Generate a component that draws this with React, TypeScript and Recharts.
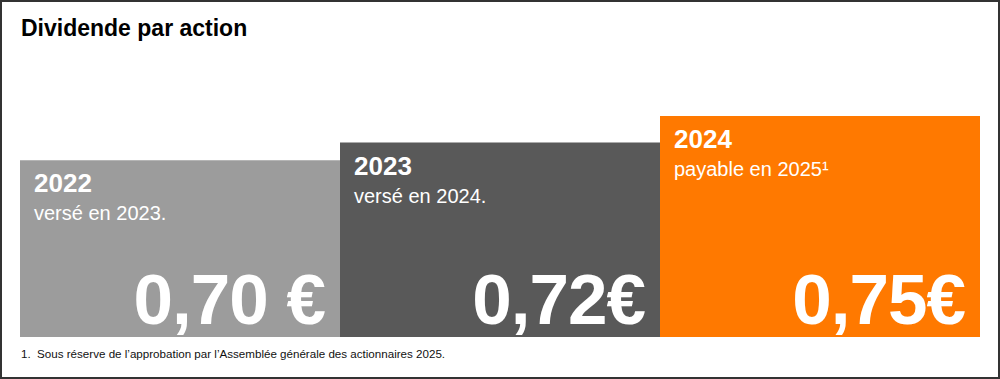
import { BarChart, Bar, Cell, XAxis, YAxis, LabelList } from 'recharts';

const years = ['2022', '2023', '2024'];
const notes = ['versé en 2023.', 'versé en 2024.', 'payable en 2025¹'];
const dividends = [0.7, 0.72, 0.75];
const valueLabels = ['0,70 €', '0,72€', '0,75€'];

const BAR_COLORS = ['#9c9c9c', '#595959', '#ff7900'];
const FONT = '"Liberation Sans", Arial, Helvetica, sans-serif';

const data = years.map((year, i) => ({
  year,
  note: notes[i],
  value: dividends[i],
  label: valueLabels[i],
}));

const renderBarText = (props: any) => {
  const { x, y, width, height, index } = props;
  const row = data[index];
  const left = x + 14;
  const bottom = y + height;
  return (
    <g fontFamily={FONT} fill="#ffffff">
      <text x={left} y={y + 32} fontSize={26} fontWeight="bold">
        {row.year}
      </text>
      <text x={left} y={y + 60} fontSize={20}>
        {row.note}
      </text>
      <text
        x={x + width - 15}
        y={bottom - 13}
        fontSize={71}
        fontWeight="bold"
        textAnchor="end"
        letterSpacing={-1}
      >
        {row.label}
      </text>
    </g>
  );
};

export default function App() {
  return (
    <div style={{ position: 'absolute', left: 0, top: 0, width: 1000, height: 379, background: '#fff' }}>
      <BarChart
        width={1000}
        height={379}
        data={data}
        margin={{ top: 116, right: 20, bottom: 42, left: 20 }}
        barCategoryGap={0}
      >
        <XAxis dataKey="year" hide />
        <YAxis hide domain={[0.5, 0.75]} allowDataOverflow />
        <Bar dataKey="value" isAnimationActive={false}>
          {data.map((entry, index) => (
            <Cell key={`cell-${index}`} fill={BAR_COLORS[index % BAR_COLORS.length]} />
          ))}
          <LabelList dataKey="value" content={renderBarText} />
        </Bar>
      </BarChart>
      <div
        style={{
          position: 'absolute',
          left: 21,
          top: 15,
          fontFamily: FONT,
          fontWeight: 'bold',
          fontSize: 23,
          color: '#000',
          lineHeight: '26px',
        }}
      >
        Dividende par action
      </div>
      <div
        style={{
          position: 'absolute',
          left: 21,
          top: 347,
          fontFamily: FONT,
          fontSize: 11.6,
          color: '#111',
          lineHeight: '14px',
          whiteSpace: 'pre',
        }}
      >
        {'1.  Sous réserve de l’approbation par l’Assemblée générale des actionnaires 2025.'}
      </div>
      <div
        style={{
          position: 'absolute',
          inset: 0,
          border: '2px solid #333',
          pointerEvents: 'none',
        }}
      />
    </div>
  );
}
